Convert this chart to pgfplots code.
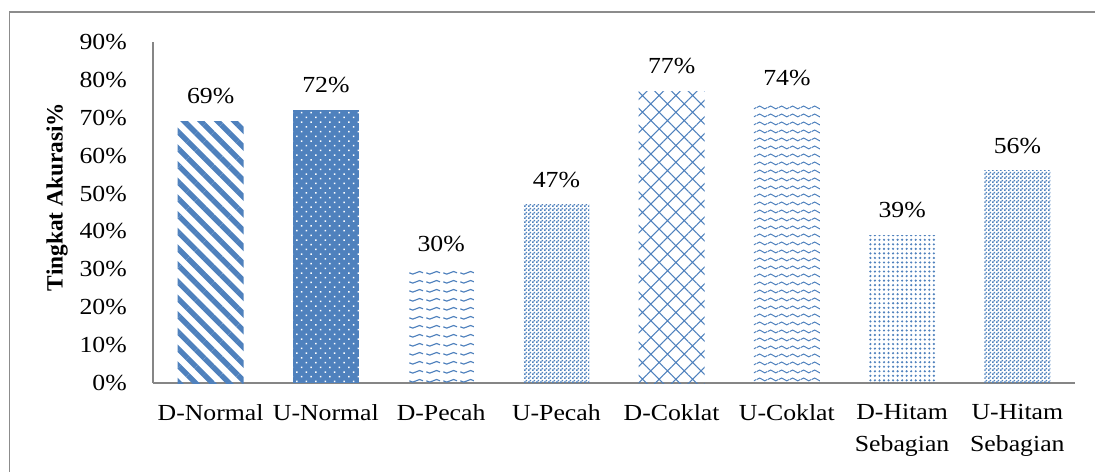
\documentclass[border=0pt]{standalone}
\usepackage{fontspec}
\setmainfont{Liberation Serif}[FakeStretch=1.12]
\newfontfamily\ylabfont{Liberation Serif}
\usepackage{pgfplots}
\pgfplotsset{compat=1.18}
\usetikzlibrary{patterns,patterns.meta}

\definecolor{barblue}{HTML}{4F81BD}
\definecolor{axisgray}{HTML}{868686}
\definecolor{framegray}{HTML}{8C8C8C}

% fine checkerboard
\pgfdeclarepatternformonly{finechecker}{\pgfpointorigin}{\pgfqpoint{3pt}{3pt}}{\pgfqpoint{3pt}{3pt}}{%
  \pgfpathrectangle{\pgfpointorigin}{\pgfqpoint{1.5pt}{1.5pt}}%
  \pgfpathrectangle{\pgfqpoint{1.5pt}{1.5pt}}{\pgfqpoint{1.5pt}{1.5pt}}%
  \pgfusepath{fill}}
% open checkerboard with thin gaps
\pgfdeclarepatternformonly{openchecker}{\pgfpointorigin}{\pgfqpoint{3pt}{3pt}}{\pgfqpoint{3pt}{3pt}}{%
  \pgfpathrectangle{\pgfqpoint{0.1pt}{0.1pt}}{\pgfqpoint{1.35pt}{1.35pt}}%
  \pgfpathrectangle{\pgfqpoint{1.6pt}{1.6pt}}{\pgfqpoint{1.35pt}{1.35pt}}%
  \pgfusepath{fill}}
% continuous waves
\pgfdeclarepatternformonly{bigwave}{\pgfpointorigin}{\pgfqpoint{8pt}{6pt}}{\pgfqpoint{8pt}{6pt}}{%
  \pgfsetlinewidth{0.8pt}%
  \pgfpathmoveto{\pgfqpoint{0pt}{3pt}}%
  \pgfpathcurveto{\pgfqpoint{1.3pt}{4.6pt}}{\pgfqpoint{2.7pt}{4.6pt}}{\pgfqpoint{4pt}{3pt}}%
  \pgfpathcurveto{\pgfqpoint{5.3pt}{1.4pt}}{\pgfqpoint{6.7pt}{1.4pt}}{\pgfqpoint{8pt}{3pt}}%
  \pgfusepath{stroke}}
% short broken waves
\pgfdeclarepatternformonly{smallwave}{\pgfpointorigin}{\pgfqpoint{12.75pt}{6.5pt}}{\pgfqpoint{12.75pt}{6.5pt}}{%
  \pgfsetlinewidth{0.9pt}%
  \pgfpathmoveto{\pgfqpoint{1pt}{3.25pt}}%
  \pgfpathcurveto{\pgfqpoint{2.8pt}{1.9pt}}{\pgfqpoint{4.6pt}{1.9pt}}{\pgfqpoint{6.4pt}{3.25pt}}%
  \pgfpathcurveto{\pgfqpoint{8.2pt}{4.6pt}}{\pgfqpoint{10pt}{4.6pt}}{\pgfqpoint{11.75pt}{3.25pt}}%
  \pgfusepath{stroke}}

\begin{document}
\begin{tikzpicture}
\useasboundingbox (0,0) rectangle (821.25pt,353.25pt);
\draw[draw=framegray, line width=1.1pt] (7.1pt,-2pt) -- (7.1pt,344.25pt) -- (823pt,344.25pt);
\begin{axis}[
  at={(114.75pt,66pt)}, anchor=south west,
  scale only axis, width=691.5pt, height=255.75pt,
  xmin=-0.5, xmax=7.5, ymin=0, ymax=90,
  ybar, bar width=49.5pt, bar shift=0pt,
  axis x line*=bottom, axis y line*=left,
  axis line style={-, draw=axisgray, line width=1.1pt},
  major tick length=0pt,
  xtick={0,...,7},
  xticklabels={D-Normal, U-Normal, D-Pecah, U-Pecah, D-Coklat, U-Coklat, {D-Hitam\\Sebagian}, {U-Hitam\\Sebagian}},
  ytick={0,10,...,90},
  yticklabel={\pgfmathprintnumber{\tick}\%},
  /pgf/number format/assume math mode=true,
  tick label style={font=\fontsize{17.25}{24}\selectfont},
  yticklabel style={anchor=east, inner sep=0pt, xshift=-19.5pt},
  xticklabel style={anchor=north, inner sep=0pt, yshift=-16pt, align=center},
  nodes near coords={\pgfmathprintnumber{\pgfplotspointmeta}\%},
  nodes near coords style={font=\fontsize{17.25}{24}\selectfont, anchor=south, inner sep=0pt, yshift=12.75pt},
  ylabel={Tingkat Akurasi\%},
  ylabel style={at={(axis description cs:-0.1041,0.5455)}, anchor=center, font=\ylabfont\bfseries\fontsize{17.5}{20}\selectfont},
]
\addplot[draw=none, pattern={Lines[angle=-45,distance=8.85pt,line width=4pt]}, pattern color=barblue] coordinates {(0,69)};
\addplot[draw=none, fill=barblue, postaction={pattern={Dots[distance=5pt,radius=0.8pt,angle=45]}, pattern color=white}] coordinates {(1,72)};
\addplot[draw=none, pattern=smallwave, pattern color=barblue] coordinates {(2,30)};
\addplot[draw=none, pattern=openchecker, pattern color=barblue] coordinates {(3,47)};
\addplot[draw=none, pattern={Hatch[angle=45,distance=8.85pt,line width=0.8pt]}, pattern color=barblue] coordinates {(4,77)};
\addplot[draw=none, pattern=bigwave, pattern color=barblue] coordinates {(5,74)};
\addplot[draw=none, pattern={Dots[distance=3.4pt,radius=0.9pt]}, pattern color=barblue] coordinates {(6,39)};
\addplot[draw=none, pattern=finechecker, pattern color=barblue] coordinates {(7,56)};
\end{axis}
\end{tikzpicture}
\end{document}
